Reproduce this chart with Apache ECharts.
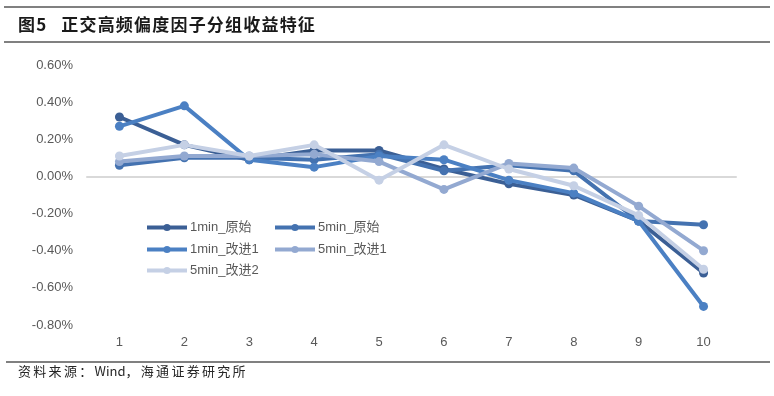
<!DOCTYPE html>
<html>
<head>
<meta charset="utf-8">
<script src="https://cdn.jsdelivr.net/npm/echarts@6/dist/echarts.min.js"></script>
<style>
html,body{margin:0;padding:0;background:#fff;}
#c{width:774px;height:396px;}
</style>
</head>
<body>
<div id="c"></div>
<script>
const categories = ['1','2','3','4','5','6','7','8','9','10'];
const seriesNames = ['1min_原始','5min_原始','1min_改进1','5min_改进1','5min_改进2'];
const s1minRaw  = [0.32, 0.17, 0.09, 0.14, 0.14, 0.04, -0.04, -0.10, -0.24, -0.52];
const s5minRaw  = [0.06, 0.10, 0.10, 0.09, 0.12, 0.03, 0.06, 0.03, -0.24, -0.26];
const s1minImp1 = [0.27, 0.38, 0.09, 0.05, 0.11, 0.09, -0.02, -0.09, -0.24, -0.70];
const s5minImp1 = [0.08, 0.11, 0.11, 0.12, 0.08, -0.07, 0.07, 0.045, -0.16, -0.40];
const s5minImp2 = [0.11, 0.17, 0.11, 0.17, -0.02, 0.17, 0.04, -0.05, -0.21, -0.50];
const yTicks = [-0.8, -0.6, -0.4, -0.2, 0, 0.2, 0.4, 0.6];
const titleText = '图5   正交高频偏度因子分组收益特征';
const sourceText = '资料来源：Wind，海通证券研究所';

const colors = ['#3b5f95', '#4472b0', '#4b80c3', '#93a9d1', '#c5d0e5'];
const allData = [s1minRaw, s5minRaw, s1minImp1, s5minImp1, s5minImp2];

const chart = echarts.init(document.getElementById('c'), null, {renderer: 'canvas'});

const mctx = document.createElement('canvas').getContext('2d');
function spacedText(str, x, y, font, spacing, color, weight) {
  const f = (weight ? weight + ' ' : '') + font;
  mctx.font = f;
  const els = [];
  let cx = x;
  for (const ch of str) {
    if (ch !== ' ') {
      els.push({type: 'text', left: cx, top: y, silent: true,
        style: {text: ch, font: f, fill: color}});
    }
    const isCJK = ch.charCodeAt(0) > 0x2e80;
    cx += (ch === ' ' ? 5 : mctx.measureText(ch).width) + (isCJK ? spacing : 0);
  }
  return els;
}

const graphics = [
  {type: 'line', silent: true, shape: {x1: 4, y1: 7, x2: 770, y2: 7}, style: {stroke: '#808080', lineWidth: 2}},
  {type: 'line', silent: true, shape: {x1: 4, y1: 42, x2: 770, y2: 42}, style: {stroke: '#808080', lineWidth: 2}},
  {type: 'line', silent: true, shape: {x1: 6, y1: 362, x2: 770, y2: 362}, style: {stroke: '#808080', lineWidth: 2}}
].concat(
  spacedText(titleText, 18, 16, '17px "Noto Sans CJK SC", sans-serif', 1.2, '#1a1a1a', 'bold'),
  spacedText(sourceText, 18, 365, '13px "Noto Sans CJK SC", sans-serif', 2.3, '#262626')
);

const legendPos = [
  {left: 145, top: 221}, {left: 273, top: 221},
  {left: 145, top: 243}, {left: 273, top: 243},
  {left: 145, top: 264}
];

const option = {
  animation: false,
  backgroundColor: '#fff',
  color: colors,
  graphic: graphics,
  legend: seriesNames.map((n, i) => ({
    data: [n], left: legendPos[i].left, top: legendPos[i].top,
    itemWidth: 40, itemHeight: 9, itemGap: 5, padding: 0,
    lineStyle: {width: 4},
    textStyle: {color: '#595959', fontSize: 13, fontFamily: '"Liberation Sans", Arial, "Noto Sans CJK SC", sans-serif', padding: [0,0,0,-2]}
  })),
  grid: {left: 87, right: 38, top: 65, bottom: 71, containLabel: false},
  xAxis: [{
    type: 'category', data: categories, boundaryGap: true,
    position: 'bottom',
    axisLine: {show: false, onZero: false}, axisTick: {show: false},
    axisLabel: {color: '#595959', fontSize: 13, margin: 11, fontFamily: '"Liberation Sans", Arial, sans-serif'},
    splitLine: {show: false}
  }, {
    type: 'category', data: categories, boundaryGap: true,
    axisLine: {show: true, onZero: true, lineStyle: {color: '#d9d9d9', width: 2}},
    axisTick: {show: false}, axisLabel: {show: false}, splitLine: {show: false}
  }],
  yAxis: {
    type: 'value', min: yTicks[0], max: yTicks[yTicks.length - 1], interval: 0.2,
    axisLine: {show: false}, axisTick: {show: false}, splitLine: {show: false},
    axisLabel: {color: '#595959', fontSize: 13, margin: 14, fontFamily: '"Liberation Sans", Arial, sans-serif',
      formatter: v => v.toFixed(2) + '%'}
  },
  series: seriesNames.map((n, i) => ({
    name: n, type: 'line', data: allData[i], xAxisIndex: 0,
    symbol: 'circle', symbolSize: 9, showSymbol: true,
    lineStyle: {width: 4, color: colors[i]},
    itemStyle: {color: colors[i]},
    z: 2 + i
  }))
};
chart.setOption(option);
</script>
</body>
</html>
